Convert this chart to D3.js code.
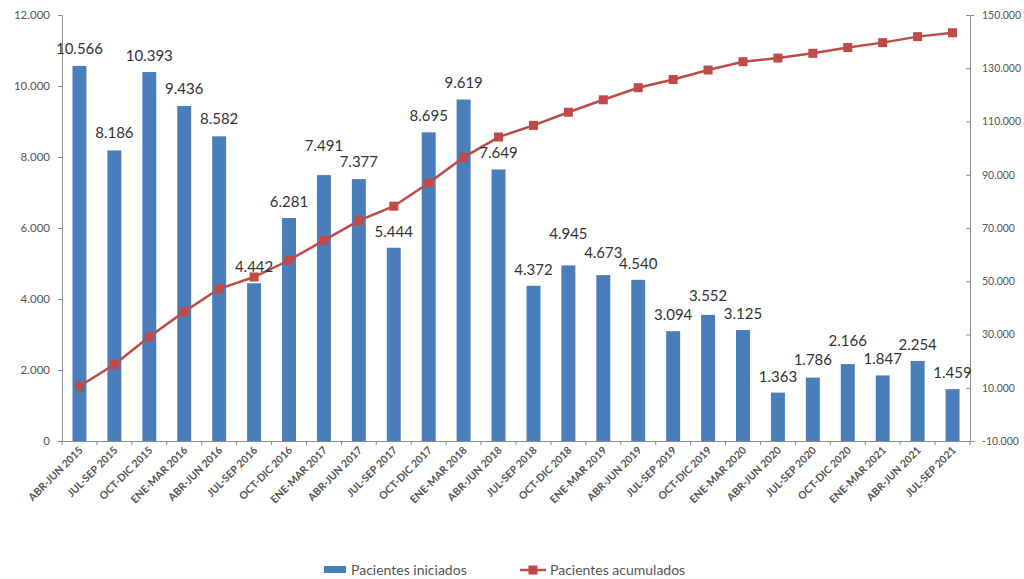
<!DOCTYPE html>
<html><head><meta charset="utf-8">
<script src="https://cdn.jsdelivr.net/npm/d3@7"></script>
<style>body{margin:0;background:#fff}svg{display:block}</style>
</head><body><svg id="c" width="1024" height="579"></svg>
<script>
const categories = ["ABR-JUN 2015","JUL-SEP 2015","OCT-DIC 2015","ENE-MAR 2016","ABR-JUN 2016","JUL-SEP 2016","OCT-DIC 2016","ENE-MAR 2017","ABR-JUN 2017","JUL-SEP 2017","OCT-DIC 2017","ENE-MAR 2018","ABR-JUN 2018","JUL-SEP 2018","OCT-DIC 2018","ENE-MAR 2019","ABR-JUN 2019","JUL-SEP 2019","OCT-DIC 2019","ENE-MAR 2020","ABR-JUN 2020","JUL-SEP 2020","OCT-DIC 2020","ENE-MAR 2021","ABR-JUN 2021","JUL-SEP 2021"];
const iniciados = [10566,8186,10393,9436,8582,4442,6281,7491,7377,5444,8695,9619,7649,4372,4945,4673,4540,3094,3552,3125,1363,1786,2166,1847,2254,1459];
const acumulados = [10566,18752,29145,38581,47163,51605,57886,65377,72754,78198,86893,96512,104161,108533,113478,118151,122691,125785,129337,132462,133825,135611,137777,139624,141878,143337];
const leftTicks = [0,2000,4000,6000,8000,10000,12000];
const rightTicks = [-10000,10000,30000,50000,70000,90000,110000,130000,150000];
const seriesNames = ["Pacientes iniciados","Pacientes acumulados"];
// extra lift (px) of some data labels, as placed in the original
const labelLift = [1,1,0,1,1,0,0,13,1,0,0,1,0,0,15,6,0,0,3,0,0,2,7,0,0,0];

const loc = d3.formatLocale({decimal:",", thousands:".", grouping:[3], currency:["","€"], minus:"-"});
const fmt = loc.format(",d");

const svg = d3.select("#c");
const L = 62, R = 970, T = 15, B = 441;
const x = d3.scaleBand().domain(categories).range([L, R]).paddingInner(0.6).paddingOuter(0.3);
const yL = d3.scaleLinear().domain([0, 12000]).range([B, T]);
const yR = d3.scaleLinear().domain([-10000, 150000]).range([B, T]);
const blue = "#4a7ebb", red = "#be4b48", axisCol = "#8c8c8c";
const font = "Lato, 'Liberation Sans', Arial, sans-serif";

// axes
const gl = svg.append("g").attr("transform", `translate(${L},0)`)
  .call(d3.axisLeft(yL).tickValues(leftTicks).tickFormat(fmt).tickSize(4).tickPadding(8));
const gr = svg.append("g").attr("transform", `translate(${R},0)`)
  .call(d3.axisRight(yR).tickValues(rightTicks).tickFormat(fmt).tickSize(4).tickPadding(8));
gr.selectAll(".tick line").attr("x2", -4);
const gx = svg.append("g").attr("transform", `translate(0,${B})`)
  .call(d3.axisBottom(x).tickSize(0).tickFormat(""));
svg.append("g").selectAll("line").data(d3.range(categories.length + 1)).join("line")
  .attr("x1", i => L + i * (R - L) / categories.length)
  .attr("x2", i => L + i * (R - L) / categories.length)
  .attr("y1", B).attr("y2", B + 4).attr("stroke", axisCol);

[gl, gr, gx].forEach(g => {
  g.selectAll(".domain, .tick line").attr("stroke", axisCol);
  g.selectAll("text").attr("font-family", font).attr("font-size", 11.5).attr("fill", "#555");
});
gr.selectAll("text").attr("font-size", 10.5);

// x labels
svg.append("g").selectAll("text").data(categories).join("text")
  .attr("transform", d => `translate(${x(d) + x.bandwidth() / 2 + 4},${B + 10}) rotate(-45)`)
  .attr("text-anchor", "end").attr("font-family", font).attr("font-size", 10.5).attr("font-weight", "bold")
  .attr("fill", "#555").text(d => d);

// bars
svg.append("g").selectAll("rect").data(iniciados).join("rect")
  .attr("x", (d, i) => x(categories[i])).attr("width", x.bandwidth())
  .attr("y", d => yL(d)).attr("height", d => B - yL(d)).attr("fill", blue);

// line
const line = d3.line().x((d, i) => x(categories[i]) + x.bandwidth() / 2).y(d => yR(d));
svg.append("path").datum(acumulados).attr("d", line).attr("fill", "none").attr("stroke", red).attr("stroke-width", 2.5);
svg.append("g").selectAll("rect").data(acumulados).join("rect")
  .attr("x", (d, i) => x(categories[i]) + x.bandwidth() / 2 - 4.5).attr("y", d => yR(d) - 4.5)
  .attr("width", 9).attr("height", 9).attr("fill", red);

// data labels
svg.append("g").selectAll("text").data(iniciados).join("text")
  .attr("x", (d, i) => x(categories[i]) + x.bandwidth() / 2).attr("y", (d, i) => yL(d) - 11 - labelLift[i])
  .attr("text-anchor", "middle").attr("font-family", font).attr("font-size", 15)
  .attr("fill", "#333").text(d => fmt(d));

// legend
const lg = svg.append("g").attr("font-family", font).attr("font-size", 14).attr("fill", "#555");
lg.append("rect").attr("x", 324).attr("y", 566).attr("width", 22).attr("height", 7).attr("fill", blue);
lg.append("text").attr("x", 351).attr("y", 575).text(seriesNames[0]);
lg.append("line").attr("x1", 520).attr("x2", 546).attr("y1", 570).attr("y2", 570).attr("stroke", red).attr("stroke-width", 2.5);
lg.append("rect").attr("x", 528.5).attr("y", 565.5).attr("width", 9).attr("height", 9).attr("fill", red);
lg.append("text").attr("x", 550).attr("y", 575).text(seriesNames[1]);
</script></body></html>
